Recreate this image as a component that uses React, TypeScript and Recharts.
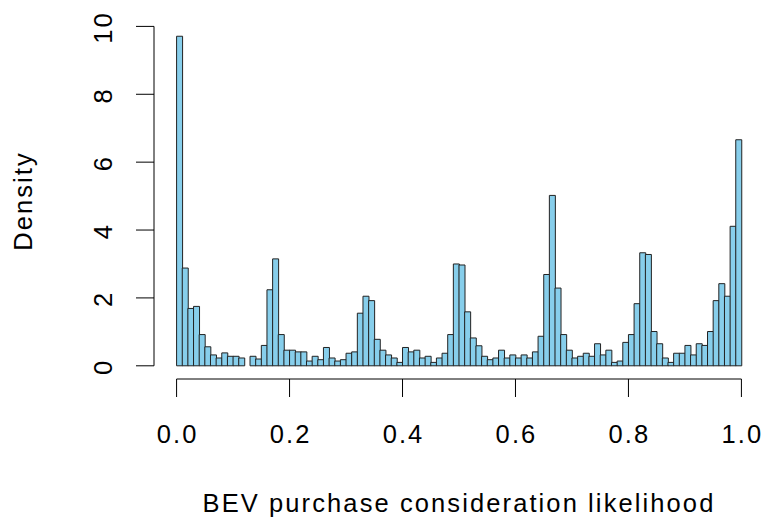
import { BarChart, Bar, XAxis, YAxis, ReferenceLine } from 'recharts';

// density per bin, 100 bins of width 0.01 from 0 to 1
const densities = [
  9.71, 2.88, 1.69, 1.75, 0.92, 0.56, 0.32, 0.23, 0.38, 0.28,
  0.28, 0.23, 0, 0.28, 0.2, 0.6, 2.24, 3.15, 0.92, 0.46,
  0.46, 0.41, 0.41, 0.14, 0.28, 0.18, 0.54, 0.23, 0.14, 0.18,
  0.37, 0.41, 1.55, 2.05, 1.92, 0.78, 0.46, 0.32, 0.23, 0.1,
  0.54, 0.41, 0.46, 0.23, 0.28, 0.1, 0.23, 0.37, 0.92, 3.0,
  2.97, 1.59, 0.82, 0.59, 0.28, 0.18, 0.23, 0.46, 0.23, 0.32,
  0.23, 0.32, 0.23, 0.41, 0.87, 2.69, 5.02, 2.29, 0.92, 0.46,
  0.23, 0.28, 0.37, 0.28, 0.65, 0.32, 0.46, 0.1, 0.14, 0.69,
  0.92, 1.83, 3.33, 3.28, 1.01, 0.65, 0.23, 0.1, 0.37, 0.37,
  0.6, 0.32, 0.65, 0.6, 1.01, 1.92, 2.42, 2.05, 4.11, 6.66,
];
const binWidth = 0.01;
const xTicks = [0, 0.2, 0.4, 0.6, 0.8, 1];
const yTicks = [0, 2, 4, 6, 8, 10];

const xDomain: [number, number] = [-0.04, 1.04];
const yDomain: [number, number] = [-0.389, 10.1];

const data = densities.map((d, i) => ({ mid: (i + 0.5) * binWidth, density: d }));

const FONT = '"Liberation Sans", Arial, sans-serif';
const FS = 25.5;
const LS = '2.1px';

const XTick = ({ x, y, payload }: any) => (
  <text x={x + 1} y={y + 44} textAnchor="middle" fontSize={FS} fontFamily={FONT} fill="#000" style={{ letterSpacing: LS }}>
    {payload.value.toFixed(1)}
  </text>
);

const YTick = ({ y, payload }: any) => (
  <text
    x={0}
    y={0}
    transform={`translate(111.5, ${y + 1}) rotate(-90)`}
    textAnchor="middle"
    fontSize={FS}
    fontFamily={FONT}
    fill="#000"
    style={{ letterSpacing: LS }}
  >
    {payload.value}
  </text>
);

export default function App() {
  return (
    <div style={{ position: 'absolute', left: 0, top: 0, background: '#fff' }}>
      <BarChart
        width={764}
        height={525}
        data={data}
        margin={{ top: 23, right: 0, left: 0, bottom: 0 }}
        barCategoryGap={0}
        barGap={0}
      >
        <XAxis
          dataKey="mid"
          type="number"
          domain={xDomain}
          allowDataOverflow
          ticks={xTicks}
          axisLine={false}
          tickSize={18}
          tickLine={{ stroke: '#000' }}
          tick={<XTick />}
          height={146}
          label={{
            value: 'BEV purchase consideration likelihood',
            position: 'insideBottom',
            offset: 13.5,
            fontSize: FS,
            fontFamily: FONT,
            fill: '#000',
            style: { letterSpacing: LS },
          }}
        />
        <YAxis
          type="number"
          domain={yDomain}
          allowDataOverflow
          ticks={yTicks}
          axisLine={false}
          tickSize={18}
          tickLine={{ stroke: '#000' }}
          tick={<YTick />}
          width={154}
          label={{
            value: 'Density',
            angle: -90,
            position: 'insideLeft',
            offset: 23,
            textAnchor: 'middle',
            fontSize: FS,
            fontFamily: FONT,
            fill: '#000',
            style: { letterSpacing: LS },
          }}
        />
        <ReferenceLine
          segment={[{ x: 0, y: yDomain[0] }, { x: 1, y: yDomain[0] }]}
          stroke="#000"
          ifOverflow="visible"
        />
        <ReferenceLine
          segment={[{ x: xDomain[0], y: 0 }, { x: xDomain[0], y: 10 }]}
          stroke="#000"
          ifOverflow="visible"
        />
        <Bar dataKey="density" fill="#87CEEB" stroke="#222" strokeWidth={1} isAnimationActive={false} />
      </BarChart>
    </div>
  );
}
